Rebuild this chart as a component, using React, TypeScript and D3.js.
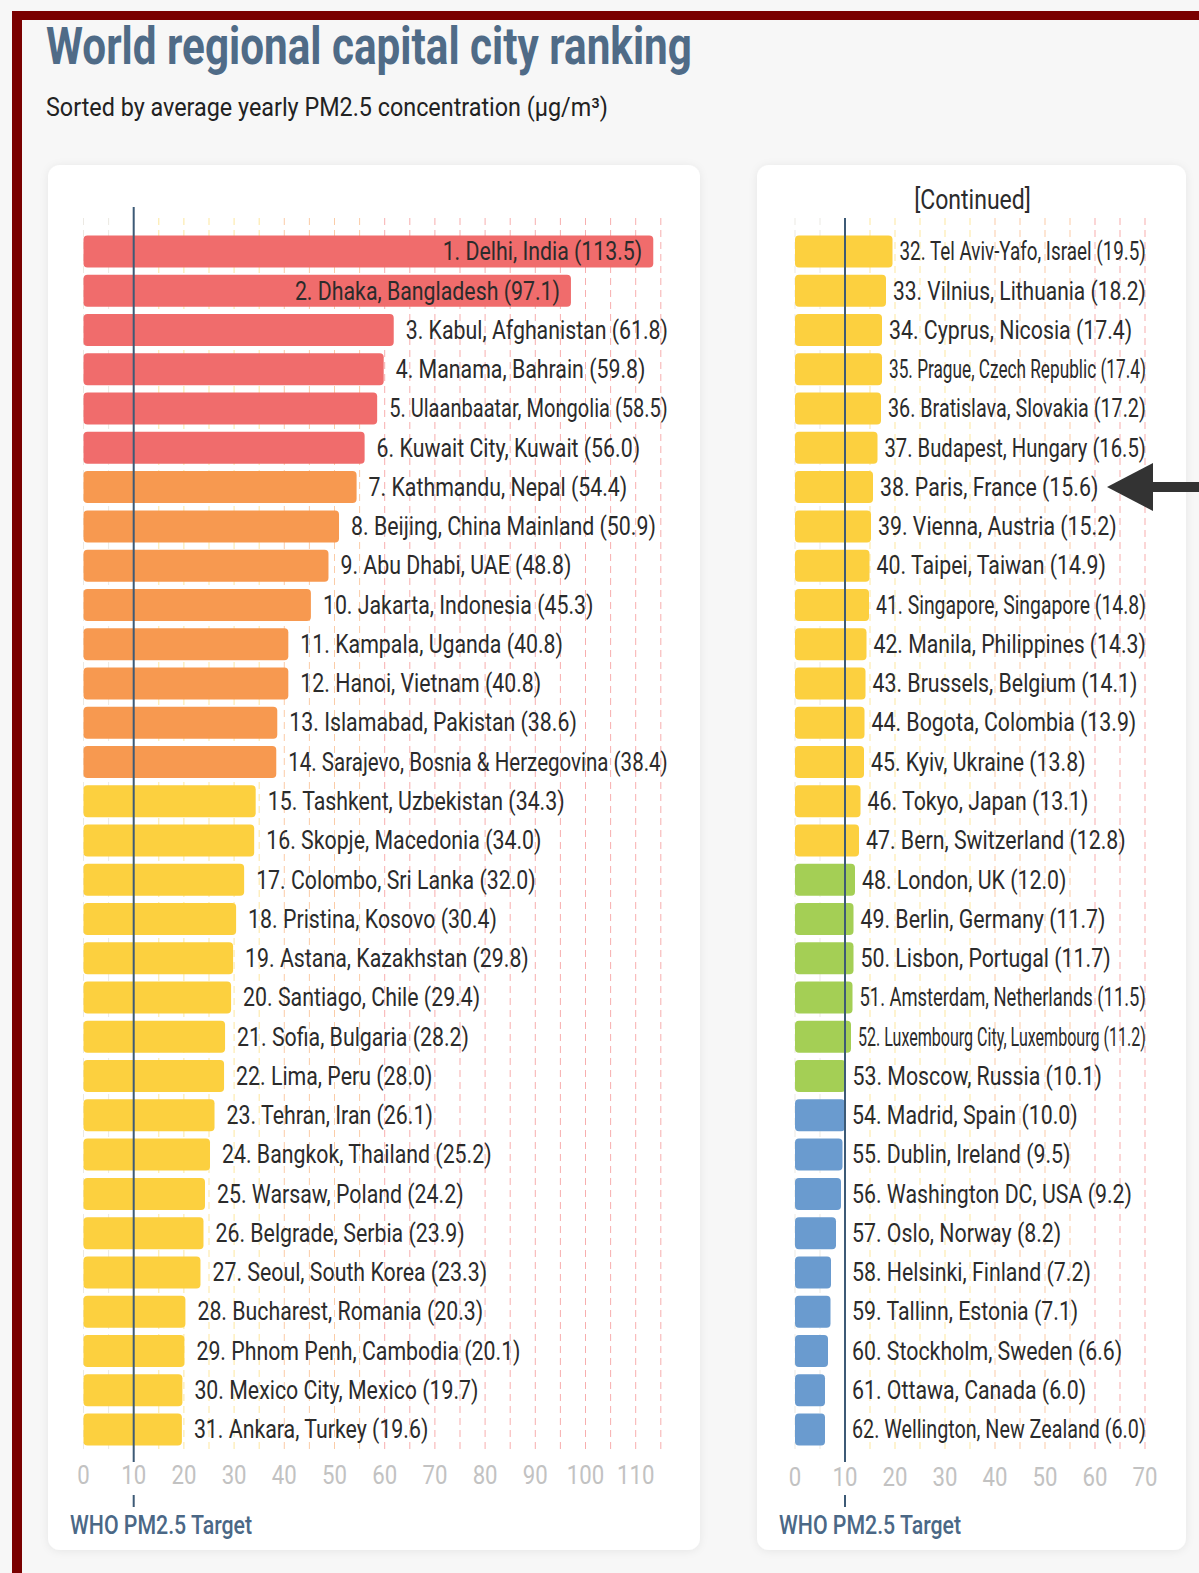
import React, { useEffect, useRef } from "react";
import * as d3 from "d3";

const leftCities = [
  "Delhi, India", "Dhaka, Bangladesh", "Kabul, Afghanistan", "Manama, Bahrain",
  "Ulaanbaatar, Mongolia", "Kuwait City, Kuwait", "Kathmandu, Nepal", "Beijing, China Mainland",
  "Abu Dhabi, UAE", "Jakarta, Indonesia", "Kampala, Uganda", "Hanoi, Vietnam",
  "Islamabad, Pakistan", "Sarajevo, Bosnia & Herzegovina", "Tashkent, Uzbekistan", "Skopje, Macedonia",
  "Colombo, Sri Lanka", "Pristina, Kosovo", "Astana, Kazakhstan", "Santiago, Chile",
  "Sofia, Bulgaria", "Lima, Peru", "Tehran, Iran", "Bangkok, Thailand",
  "Warsaw, Poland", "Belgrade, Serbia", "Seoul, South Korea", "Bucharest, Romania",
  "Phnom Penh, Cambodia", "Mexico City, Mexico", "Ankara, Turkey",
];
const leftValues = [
  113.5, 97.1, 61.8, 59.8, 58.5, 56.0, 54.4, 50.9, 48.8, 45.3, 40.8, 40.8, 38.6, 38.4, 34.3, 34.0,
  32.0, 30.4, 29.8, 29.4, 28.2, 28.0, 26.1, 25.2, 24.2, 23.9, 23.3, 20.3, 20.1, 19.7, 19.6,
];
const rightCities = [
  "Tel Aviv-Yafo, Israel", "Vilnius, Lithuania", "Cyprus, Nicosia", "Prague, Czech Republic",
  "Bratislava, Slovakia", "Budapest, Hungary", "Paris, France", "Vienna, Austria",
  "Taipei, Taiwan", "Singapore, Singapore", "Manila, Philippines", "Brussels, Belgium",
  "Bogota, Colombia", "Kyiv, Ukraine", "Tokyo, Japan", "Bern, Switzerland",
  "London, UK", "Berlin, Germany", "Lisbon, Portugal", "Amsterdam, Netherlands",
  "Luxembourg City, Luxembourg", "Moscow, Russia", "Madrid, Spain", "Dublin, Ireland",
  "Washington DC, USA", "Oslo, Norway", "Helsinki, Finland", "Tallinn, Estonia",
  "Stockholm, Sweden", "Ottawa, Canada", "Wellington, New Zealand",
];
const rightValues = [
  19.5, 18.2, 17.4, 17.4, 17.2, 16.5, 15.6, 15.2, 14.9, 14.8, 14.3, 14.1, 13.9, 13.8, 13.1, 12.8,
  12.0, 11.7, 11.7, 11.5, 11.2, 10.1, 10.0, 9.5, 9.2, 8.2, 7.2, 7.1, 6.6, 6.0, 6.0,
];
const leftTicks = [0, 10, 20, 30, 40, 50, 60, 70, 80, 90, 100, 110];
const rightTicks = [0, 10, 20, 30, 40, 50, 60, 70];
const categoryBreaks = [10.05, 12.05, 35.45, 55.45];
const categoryColors = ["#6a9bcf", "#a4cf55", "#fcd03f", "#f79950", "#f06c6c"];
const WHO_TARGET = 10;

const FONT = "Roboto, 'Noto Sans', sans-serif";
const SX = 0.853;

export default function App() {
  const ref = useRef<SVGSVGElement>(null);

  useEffect(() => {
    const svg = d3.select(ref.current);
    svg.selectAll("*").remove();
    const color = d3.scaleThreshold<number, string>().domain(categoryBreaks).range(categoryColors);

    const defs = svg.append("defs");
    const f = defs.append("filter").attr("id", "shadow").attr("x", "-5%").attr("y", "-5%").attr("width", "110%").attr("height", "110%");
    f.append("feDropShadow").attr("dx", 0).attr("dy", 1).attr("stdDeviation", 4).attr("flood-color", "#000").attr("flood-opacity", 0.07);

    svg.append("rect").attr("width", 1199).attr("height", 1573).attr("fill", "#f7f7f7");

    // border
    svg.append("rect").attr("x", 12).attr("y", 11).attr("width", 1187).attr("height", 9).attr("fill", "#7a0000");
    svg.append("rect").attr("x", 12).attr("y", 11).attr("width", 10).attr("height", 1562).attr("fill", "#7a0000");

    const addText = (
      g: any, x: number, y: number, str: string,
      opts: { size?: number; fill?: string; weight?: number | string; anchor?: string; sx?: number; maxRight?: number; fitWidth?: number }
    ) => {
      const size = opts.size ?? 25;
      let sx = opts.sx ?? SX;
      const t = g.append("text")
        .attr("x", 0).attr("y", 0)
        .attr("dy", "0.35em")
        .attr("font-family", FONT)
        .attr("font-size", size)
        .attr("font-weight", opts.weight ?? 400)
        .attr("fill", opts.fill ?? "#2b2b2b")
        .attr("text-anchor", opts.anchor ?? "start")
        .text(str);
      const len = (t.node() as SVGTextElement).getComputedTextLength();
      if (opts.fitWidth) sx = opts.fitWidth / len;
      if (opts.maxRight !== undefined && x + len * sx > opts.maxRight) sx = (opts.maxRight - x) / len;
      t.attr("transform", `translate(${x},${y}) scale(${sx},1)`);
      return { node: t, width: len * sx, len };
    };

    // title
    addText(svg, 46, 46, "World regional capital city ranking", { size: 52, weight: 700, fill: "#4f6b87", fitWidth: 646 });
    addText(svg, 46, 107, "Sorted by average yearly PM2.5 concentration (µg/m³)", { size: 25, fill: "#222", fitWidth: 562 });

    const panel = (
      px: number, pw: number, cities: string[], values: number[], rankOffset: number,
      x0: number, x1: number, domainMax: number, ticks: number[], gridMax: number,
      gridTop: number, whoTop: number, labelLimit: number, gap: number, continued: boolean,
      tickY: number
    ) => {
      const g = svg.append("g");
      g.append("rect").attr("x", px).attr("y", 165).attr("width", pw).attr("height", 1385).attr("rx", 12)
        .attr("fill", "#fff").attr("filter", "url(#shadow)");

      const x = d3.scaleLinear().domain([0, domainMax]).range([x0, x1]);
      const y = d3.scaleBand<number>().domain(d3.range(cities.length)).range([232, 1449]).paddingInner(0.185).paddingOuter(0.09);

      if (continued) {
        addText(g, px + pw / 2 + 1, 200, "[Continued]", { size: 27, fill: "#2b2b2b", anchor: "middle" });
      }

      // grid
      const gridVals = d3.range(0, gridMax + 0.1, 5);
      g.selectAll(null).data(gridVals).enter().append("line")
        .attr("x1", (d: number) => x(d)).attr("x2", (d: number) => x(d))
        .attr("y1", gridTop).attr("y2", 1453)
        .attr("stroke", (d: number) => (d <= 10 ? "#d9d3c8" : color(d)))
        .attr("stroke-opacity", (d: number) => (d > 55 ? 0.55 : 0.5))
        .attr("stroke-width", 1)
        .attr("stroke-dasharray", "7,5");

      // bars
      g.selectAll(null).data(values).enter().append("rect")
        .attr("x", x(0))
        .attr("y", (_: number, i: number) => y(i)!)
        .attr("width", (d: number) => x(d) - x(0))
        .attr("height", y.bandwidth())
        .attr("rx", 4)
        .attr("fill", (d: number) => color(d));

      // WHO line
      g.append("line").attr("x1", x(WHO_TARGET)).attr("x2", x(WHO_TARGET)).attr("y1", whoTop).attr("y2", 1462)
        .attr("stroke", "#3d5a76").attr("stroke-width", 2);
      g.append("line").attr("x1", x(WHO_TARGET)).attr("x2", x(WHO_TARGET)).attr("y1", 1495).attr("y2", 1507)
        .attr("stroke", "#3d5a76").attr("stroke-width", 2);

      // labels
      values.forEach((v, i) => {
        const label = `${i + 1 + rankOffset}. ${cities[i]} (${v.toFixed(1)})`;
        const cy = y(i)! + y.bandwidth() / 2;
        const startX = Math.max(x(v), x(WHO_TARGET)) + gap;
        const probe = addText(g, startX, cy, label, {});
        if (startX + probe.width > labelLimit + 2 && x(v) - x(0) > probe.width + 30) {
          probe.node.remove();
          addText(g, x(v) - 11, cy, label, { anchor: "end" });
        } else if (startX + probe.width > labelLimit) {
          probe.node.remove();
          addText(g, startX, cy, label, { maxRight: labelLimit });
        }
      });

      // ticks
      ticks.forEach((t) => {
        addText(g, x(t), tickY, String(t), { size: 26, fill: "#c2c2c2", anchor: "middle" });
      });
      addText(g, px + 22, 1525, "WHO PM2.5 Target", { size: 25, fill: "#4b6886", weight: 500 });
    };

    panel(48, 652, leftCities, leftValues, 0, 83.5, 83.5 + 5.02 * 110, 110, leftTicks, 115, 218, 207, 668, 12, false, 1475);
    panel(757, 429, rightCities, rightValues, 31, 795, 1145, 70, rightTicks, 70, 218, 218, 1146, 7, true, 1477);

    // arrow (drawn last, over the panel)
    svg.append("path").attr("d", "M1107,487 L1153,463 L1153,511 Z").attr("fill", "#333");
    svg.append("rect").attr("x", 1150).attr("y", 482).attr("width", 49).attr("height", 10).attr("fill", "#333");
  }, []);

  return (
    <svg
      ref={ref}
      width={1199}
      height={1573}
      style={{ position: "absolute", left: 0, top: 0, display: "block" }}
    />
  );
}
